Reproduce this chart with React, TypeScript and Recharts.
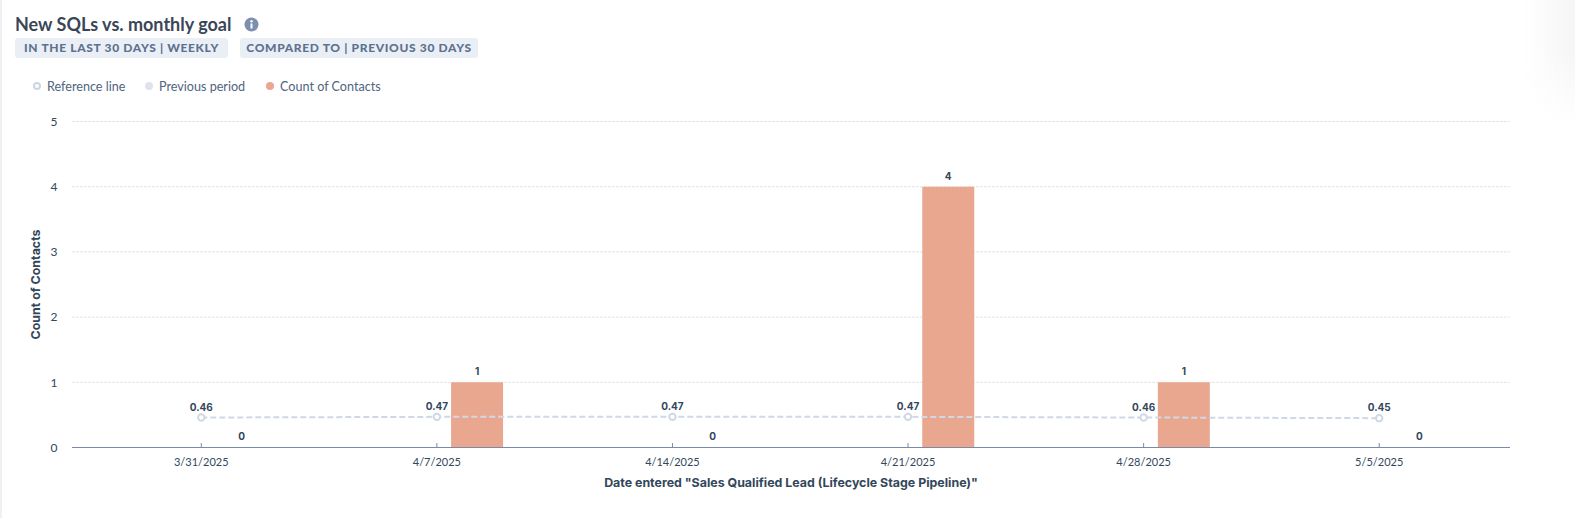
import {
  ComposedChart,
  Bar,
  Line,
  XAxis,
  YAxis,
  CartesianGrid,
  Legend,
  LabelList,
} from "recharts";

const categories = ["3/31/2025", "4/7/2025", "4/14/2025", "4/21/2025", "4/28/2025", "5/5/2025"];
const referenceLine = [0.46, 0.47, 0.47, 0.47, 0.46, 0.45];
const previousPeriod = [null, null, null, null, null, null];
const countOfContacts = [0, 1, 0, 4, 1, 0];
const yTicks = [0, 1, 2, 3, 4, 5];

const chartData = categories.map((date, i) => ({
  date,
  reference: referenceLine[i],
  previous: previousPeriod[i],
  count: countOfContacts[i],
}));

const FONT = "Lato, 'Noto Sans', sans-serif";
const LABEL_FONT = "Inter, sans-serif";
const DARK = "#33475b";
const MID = "#4f6480";
const AXIS = "#7c8aa8";

function XTick({ x, payload }: any) {
  return (
    <g>
      <line x1={x} x2={x} y1={447} y2={443} stroke={AXIS} />
      <text x={x} y={466} textAnchor="middle" fontSize={11} fill={DARK} fontFamily={FONT}>
        {payload.value}
      </text>
    </g>
  );
}

function CountLabel({ x, y, width, value }: any) {
  return (
    <text x={x + width / 2} y={y - 7} textAnchor="middle" fontSize={10} fontWeight={700} fill={DARK} fontFamily={LABEL_FONT}>
      {value}
    </text>
  );
}

function LegendRow() {
  const items = [
    { label: "Reference line", x: 33, hollow: true, color: "#cbd6e2" },
    { label: "Previous period", x: 145, hollow: false, color: "#dfe3eb" },
    { label: "Count of Contacts", x: 266, hollow: false, color: "#eaa78f" },
  ];
  return (
    <div style={{ position: "relative", height: 16, width: 600 }}>
      {items.map((it) => (
        <div key={it.label} style={{ position: "absolute", left: it.x, top: 0, display: "flex", alignItems: "center", height: 16 }}>
          <span
            style={{
              width: 8,
              height: 8,
              borderRadius: "50%",
              boxSizing: "border-box",
              background: it.hollow ? "#fff" : it.color,
              border: it.hollow ? `2px solid ${it.color}` : "none",
              marginRight: 6,
            }}
          />
          <span style={{ fontSize: 12.6, color: MID, fontFamily: FONT }}>{it.label}</span>
        </div>
      ))}
    </div>
  );
}

const chipStyle = {
  position: "absolute" as const,
  top: 38,
  height: 20,
  lineHeight: "20px",
  background: "#eaeff5",
  borderRadius: 3,
  color: "#5d7290",
  fontFamily: FONT,
  fontSize: 12,
  fontWeight: 900,
  letterSpacing: 0.65,
  textAlign: "center" as const,
  whiteSpace: "nowrap" as const,
};

export default function App() {
  return (
    <div style={{ position: "absolute", left: 0, top: 0, width: 1575, height: 518, background: "#fff", overflow: "hidden" }}>
      <div style={{ position: "absolute", left: 0, top: 0, width: 2, height: 518, background: "#f0f0f0" }} />
      <div
        style={{
          position: "absolute",
          right: 0,
          top: 0,
          width: 50,
          height: 125,
          background: "linear-gradient(to right, rgba(245,245,245,0), #f5f5f5)",
          WebkitMaskImage: "linear-gradient(to bottom, #000 40%, transparent)",
        }}
      />
      <div style={{ position: "absolute", left: 15, top: 13, fontFamily: FONT, fontSize: 18, fontWeight: 700, color: "#3a4657", whiteSpace: "nowrap" }}>
        New SQLs vs. monthly goal
      </div>
      <svg style={{ position: "absolute", left: 244, top: 17 }} width={15} height={15} viewBox="0 0 15 15">
        <circle cx={7.5} cy={7.5} r={7} fill="#7c8fae" />
        <rect x={6.5} y={6.5} width={2} height={5} fill="#fff" />
        <circle cx={7.5} cy={4.3} r={1.2} fill="#fff" />
      </svg>
      <div style={{ ...chipStyle, left: 15, width: 213 }}>IN THE LAST 30 DAYS | WEEKLY</div>
      <div style={{ ...chipStyle, left: 240, width: 238 }}>COMPARED TO | PREVIOUS 30 DAYS</div>
      <ComposedChart
        width={1575}
        height={518}
        data={chartData}
        margin={{ top: 105.5, right: 65, bottom: 0, left: 0 }}
        barGap={29}
        barSize={52}
        style={{ position: "absolute", left: 0, top: 0 }}
      >
        <CartesianGrid vertical={false} stroke="#dfe5ee" strokeDasharray="3 1" />
        <XAxis
          dataKey="date"
          padding={{ left: 11.5, right: 13 }}
          tickLine={false}
          tick={<XTick />}
          axisLine={{ stroke: AXIS }}
          interval={0}
          height={70.5}
          label={{ value: 'Date entered "Sales Qualified Lead (Lifecycle Stage Pipeline)"', position: "center", fontSize: 12.4, fontWeight: 700, fill: DARK, fontFamily: LABEL_FONT }}
        />
        <YAxis
          domain={[0, 5]}
          ticks={yTicks}
          width={72}
          axisLine={false}
          tickLine={false}
          tickSize={14.5}
          tickMargin={0}
          tick={{ fontSize: 12, fill: DARK, fontFamily: FONT }}
          label={{ value: "Count of Contacts", angle: -90, position: "center", fontSize: 12.4, fontWeight: 700, fill: DARK, fontFamily: LABEL_FONT }}
        />
        <Legend verticalAlign="top" align="left" content={<LegendRow />} wrapperStyle={{ top: 78, left: 0 }} />
        <Bar dataKey="previous" name="Previous period" fill="#dfe3eb" isAnimationActive={false} />
        <Bar dataKey="count" name="Count of Contacts" fill="#eaa78f" minPointSize={0.01} isAnimationActive={false}>
          <LabelList dataKey="count" content={<CountLabel />} />
        </Bar>
        <Line
          dataKey="reference"
          name="Reference line"
          stroke="#d0d7e5"
          strokeWidth={2}
          strokeDasharray="6 3"
          dot={{ r: 3.2, fill: "#fff", stroke: "#d0d7e5", strokeWidth: 2, strokeDasharray: "none" }}
          isAnimationActive={false}
        >
          <LabelList dataKey="reference" position="top" offset={7} fontSize={10} fontWeight={700} fill={DARK} fontFamily={LABEL_FONT} />
        </Line>
      </ComposedChart>
    </div>
  );
}
